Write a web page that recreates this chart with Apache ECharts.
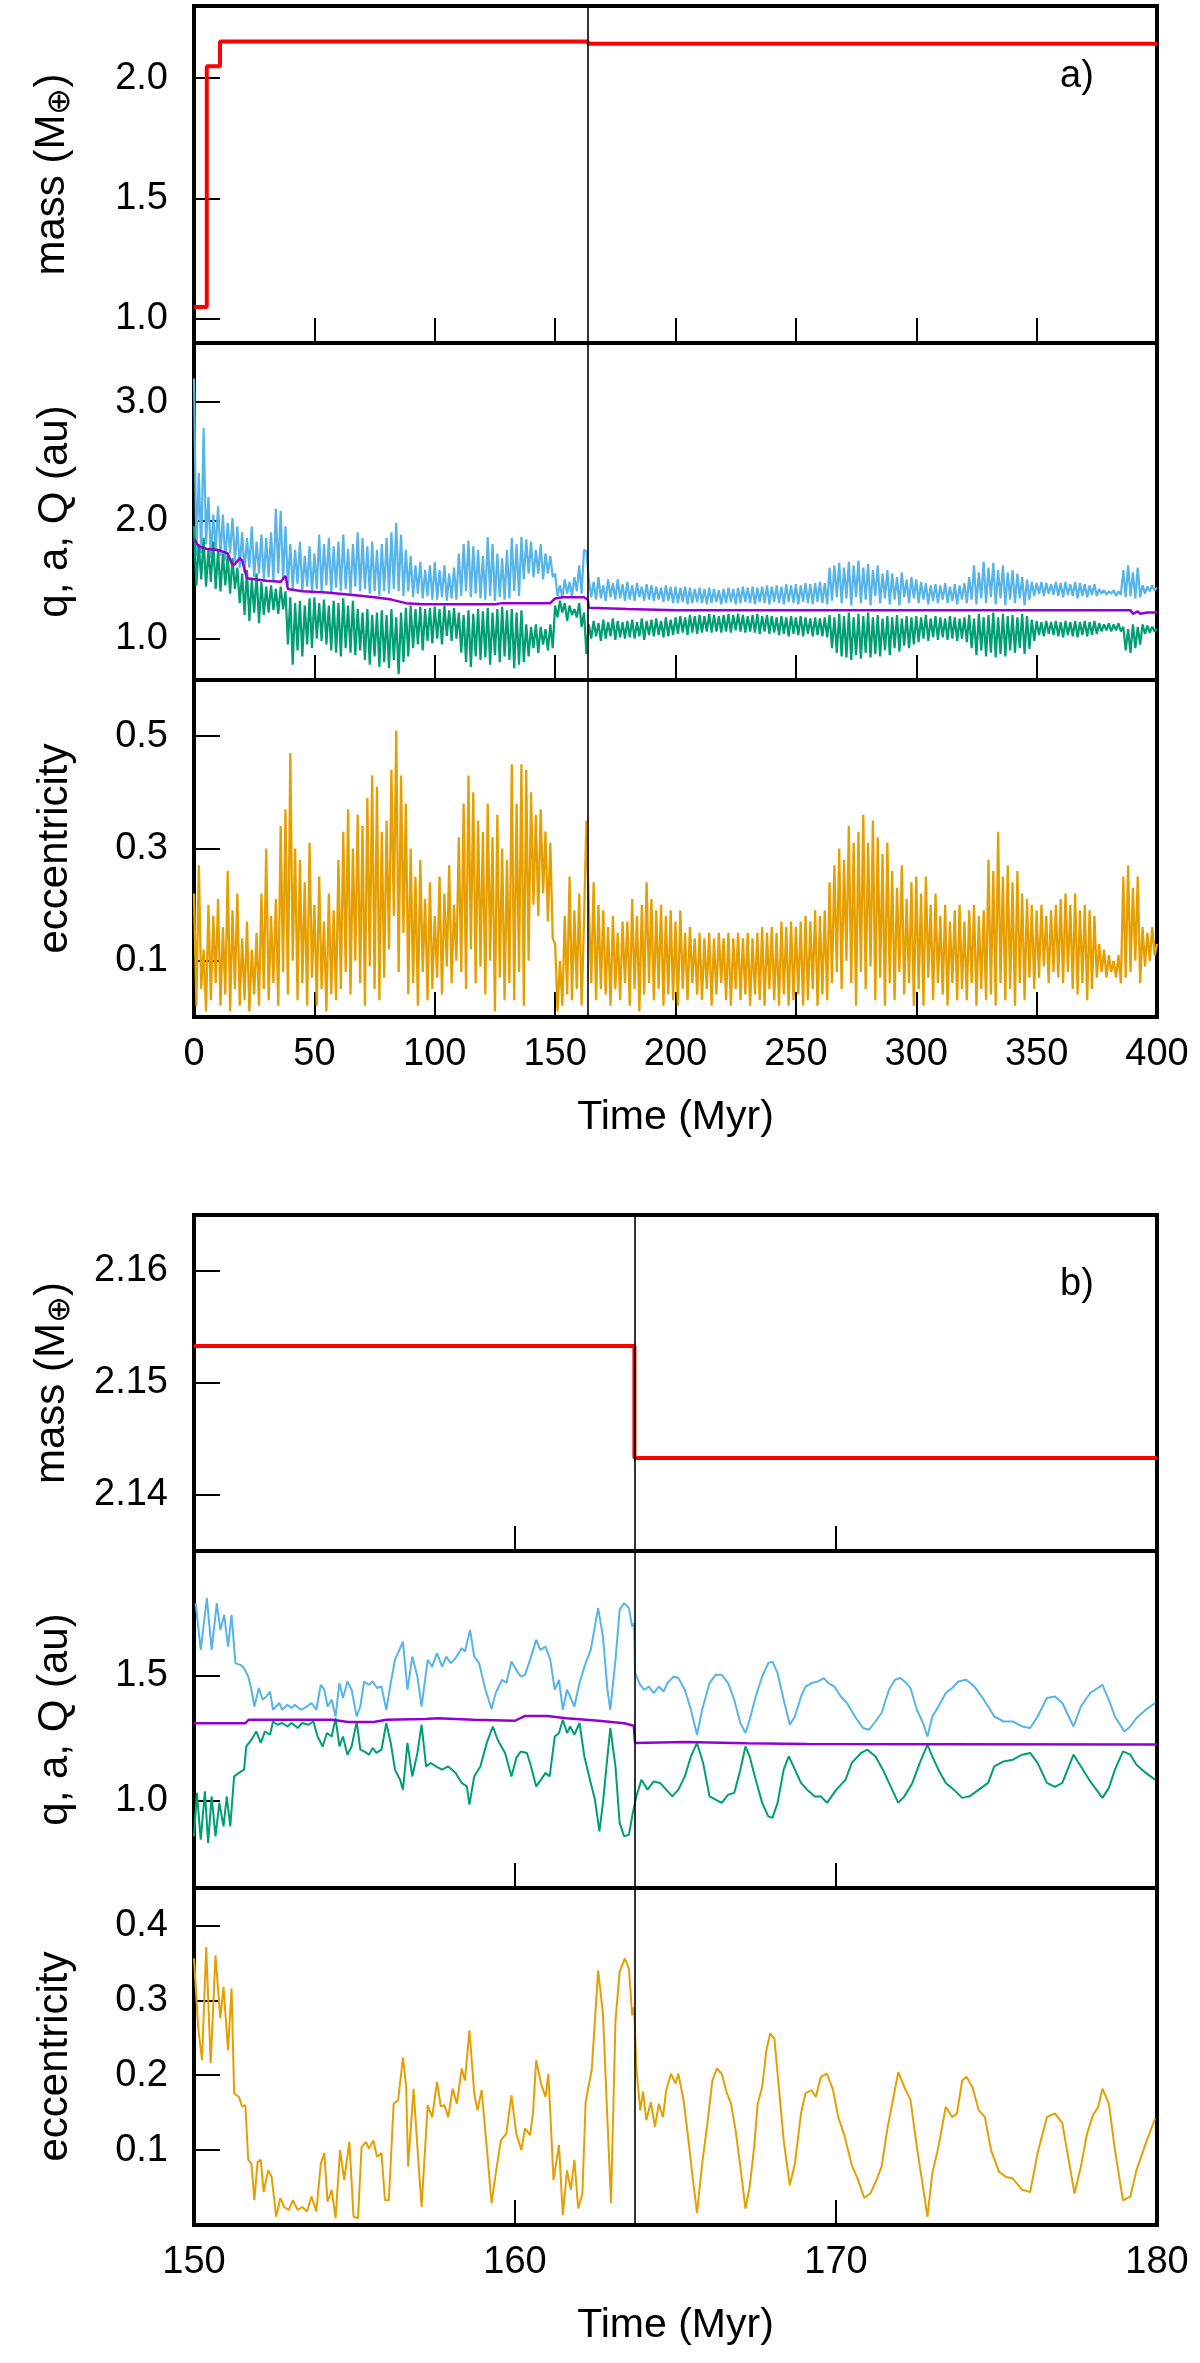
<!DOCTYPE html>
<html>
<head>
<meta charset="utf-8">
<script src="https://cdn.jsdelivr.net/npm/echarts/dist/echarts.min.js"></script>
<style>
html,body{margin:0;padding:0;background:#fff;}
#chart{width:1200px;height:2363px;}
</style>
</head>
<body>
<div id="chart"></div>
<script>
// ---------------- DATA ----------------
const eventTimeA = 163.7;
const eventTimeB = 163.72;

// Panel a) 0-400 Myr
const massTimeA = [0, 5.3, 5.3, 10.8, 10.8, 163.7, 163.7, 400];
const massA     = [1.05, 1.05, 2.05, 2.05, 2.153, 2.153, 2.143, 2.143];

const timeStartA = 0;   // Myr, first sample of the a) series below
const timeStepA  = 1;   // Myr between samples

const apoA = [
3.20,1.70,2.40,1.72,2.78,1.80,2.20,1.68,2.05,1.75,
2.12,1.70,2.05,1.66,1.98,1.72,2.02,1.65,1.95,1.60,
1.90,1.56,1.85,1.60,1.95,1.52,1.82,1.55,1.88,1.50,
1.85,1.52,1.90,1.48,2.10,1.55,2.08,1.50,1.95,1.45,
1.80,1.42,1.75,1.46,1.82,1.40,1.70,1.44,1.78,1.38,
1.72,1.42,1.88,1.40,1.80,1.45,1.85,1.38,1.78,1.43,
1.82,1.40,1.88,1.42,1.76,1.38,1.80,1.44,1.90,1.40,
1.85,1.42,1.78,1.38,1.82,1.40,1.75,1.36,1.80,1.40,
1.85,1.38,1.90,1.42,1.98,1.40,1.88,1.36,1.75,1.40,
1.70,1.35,1.62,1.38,1.65,1.34,1.58,1.36,1.62,1.33,
1.65,1.33,1.58,1.35,1.62,1.32,1.55,1.34,1.60,1.33,
1.72,1.36,1.80,1.40,1.83,1.35,1.78,1.38,1.75,1.34,
1.70,1.33,1.86,1.36,1.80,1.32,1.72,1.35,1.68,1.33,
1.75,1.34,1.85,1.40,1.80,1.36,1.86,1.50,1.84,1.55,
1.82,1.52,1.75,1.55,1.80,1.50,1.72,1.55,1.70,1.52,
1.55,1.36,1.45,1.35,1.50,1.38,1.48,1.36,1.52,1.40,
1.62,1.38,1.75,1.74,1.50,1.35,1.48,1.33,1.52,1.34,
1.45,1.32,1.50,1.35,1.47,1.33,1.50,1.34,1.46,1.32,
1.48,1.33,1.45,1.32,1.47,1.35,1.44,1.32,1.46,1.33,
1.45,1.32,1.44,1.33,1.43,1.31,1.45,1.32,1.44,1.30,
1.44,1.30,1.43,1.31,1.44,1.29,1.43,1.30,1.42,1.31,
1.43,1.30,1.42,1.29,1.43,1.30,1.42,1.31,1.41,1.29,
1.42,1.30,1.43,1.31,1.42,1.29,1.43,1.30,1.44,1.31,
1.43,1.30,1.44,1.29,1.43,1.31,1.44,1.30,1.45,1.29,
1.44,1.31,1.45,1.30,1.44,1.29,1.46,1.31,1.45,1.30,
1.46,1.29,1.45,1.31,1.47,1.30,1.46,1.29,1.47,1.31,
1.48,1.30,1.47,1.29,1.60,1.32,1.62,1.35,1.64,1.30,
1.60,1.34,1.65,1.28,1.62,1.35,1.66,1.30,1.60,1.33,
1.63,1.28,1.58,1.36,1.62,1.30,1.55,1.34,1.58,1.29,
1.55,1.33,1.52,1.28,1.56,1.35,1.50,1.30,1.52,1.34,
1.50,1.30,1.48,1.33,1.47,1.29,1.45,1.32,1.46,1.30,
1.45,1.33,1.47,1.30,1.44,1.32,1.46,1.29,1.45,1.33,
1.47,1.30,1.52,1.33,1.62,1.29,1.56,1.34,1.65,1.30,
1.60,1.35,1.64,1.29,1.58,1.34,1.62,1.28,1.56,1.33,
1.58,1.30,1.55,1.34,1.52,1.28,1.50,1.33,1.48,1.36,
1.47,1.38,1.48,1.36,1.47,1.38,1.46,1.37,1.48,1.36,
1.47,1.35,1.48,1.37,1.46,1.36,1.48,1.34,1.47,1.36,
1.46,1.35,1.45,1.37,1.46,1.36,1.42,1.38,1.41,1.37,
1.40,1.38,1.41,1.36,1.40,1.37,1.58,1.35,1.62,1.36,
1.56,1.34,1.60,1.35,1.45,1.38,1.44,1.40,1.45,1.41,
1.43];

const periA = [
1.95,1.45,1.80,1.50,1.85,1.44,1.75,1.48,1.82,1.42,
1.75,1.40,1.72,1.45,1.70,1.38,1.68,1.42,1.60,1.30,
1.55,1.20,1.58,1.15,1.50,1.22,1.55,1.13,1.48,1.20,
1.44,1.22,1.45,1.24,1.42,1.21,1.44,1.25,1.40,0.95,
1.35,0.78,1.30,0.90,1.32,0.85,1.28,0.95,1.34,0.92,
1.35,1.00,1.30,0.98,1.33,0.95,1.28,0.90,1.32,0.88,
1.30,0.85,1.34,0.92,1.28,0.88,1.32,0.86,1.25,0.90,
1.22,0.82,1.25,0.78,1.20,0.85,1.22,0.76,1.24,0.80,
1.20,0.75,1.25,0.82,1.18,0.70,1.22,0.80,1.26,0.85,
1.28,0.92,1.25,0.95,1.27,0.90,1.25,0.98,1.26,0.96,
1.27,1.00,1.25,0.95,1.28,1.02,1.24,0.98,1.26,1.00,
1.22,0.88,1.20,0.80,1.24,0.76,1.21,0.85,1.25,0.82,
1.23,0.84,1.26,0.78,1.22,0.86,1.25,0.80,1.27,0.85,
1.24,0.82,1.25,0.75,1.22,0.78,1.24,0.80,1.12,0.85,
1.10,0.92,1.12,0.88,1.10,0.95,1.08,0.90,1.12,0.92,
1.28,1.18,1.32,1.22,1.30,1.15,1.28,1.20,1.25,1.18,
1.30,1.10,1.22,0.87,1.12,1.00,1.15,1.02,1.13,0.98,
1.16,1.00,1.14,1.02,1.17,0.99,1.15,1.01,1.14,1.00,
1.15,1.01,1.16,1.00,1.14,1.02,1.17,0.99,1.15,1.03,
1.16,1.02,1.17,1.03,1.15,1.01,1.18,1.02,1.16,1.03,
1.18,1.04,1.19,1.05,1.18,1.03,1.20,1.05,1.19,1.04,
1.20,1.05,1.19,1.06,1.21,1.05,1.20,1.06,1.19,1.05,
1.20,1.06,1.21,1.05,1.20,1.07,1.21,1.06,1.20,1.05,
1.19,1.06,1.20,1.05,1.21,1.04,1.19,1.06,1.20,1.04,
1.19,1.05,1.18,1.03,1.19,1.04,1.18,1.02,1.19,1.04,
1.18,1.03,1.19,1.02,1.18,1.04,1.17,1.02,1.18,1.03,
1.17,1.02,1.18,1.01,1.20,0.92,1.18,0.88,1.21,0.85,
1.19,0.84,1.22,0.82,1.18,0.86,1.21,0.83,1.19,0.88,
1.22,0.84,1.18,0.87,1.20,0.85,1.17,0.90,1.19,0.86,
1.18,0.92,1.20,0.89,1.17,0.94,1.19,0.92,1.18,0.95,
1.19,0.97,1.18,1.00,1.20,0.98,1.17,1.01,1.19,0.99,
1.18,1.01,1.17,0.99,1.19,1.00,1.18,0.98,1.17,1.00,
1.18,0.97,1.20,0.92,1.17,0.86,1.21,0.90,1.18,0.85,
1.20,0.88,1.22,0.84,1.18,0.87,1.21,0.85,1.19,0.90,
1.20,0.88,1.18,0.92,1.21,0.87,1.19,0.91,1.16,0.98,
1.15,1.03,1.14,1.02,1.15,1.04,1.14,1.03,1.15,1.02,
1.14,1.01,1.15,1.03,1.14,1.02,1.15,1.01,1.14,1.03,
1.15,1.02,1.14,1.03,1.15,1.04,1.13,1.06,1.12,1.07,
1.13,1.06,1.12,1.07,1.13,1.06,1.10,0.90,1.08,0.88,
1.12,0.92,1.10,0.95,1.12,1.04,1.11,1.05,1.10,1.06,
1.08];

const semiA = [
[0,1.84],[2,1.78],[5,1.76],[10,1.75],[14,1.72],[16,1.62],[17,1.63],[19,1.68],[20,1.66],
[22,1.51],[30,1.49],[36,1.48],[38,1.53],[39,1.42],[45,1.40],[55,1.39],[65,1.37],[75,1.35],
[82,1.33],[88,1.30],[95,1.29],[125,1.29],[128,1.30],[148,1.30],[150,1.34],[153,1.35],
[162,1.35],[163.6,1.33],[164,1.26],[180,1.25],[200,1.24],[389,1.24],[390,1.21],[392,1.23],
[393,1.21],[396,1.22],[400,1.22]];

const eccA = [
0.22,0.02,0.27,0.05,0.12,0.01,0.20,0.03,0.18,0.06,
0.21,0.02,0.16,0.04,0.26,0.01,0.19,0.05,0.22,0.02,
0.14,0.03,0.17,0.01,0.12,0.04,0.15,0.02,0.22,0.05,
0.30,0.03,0.18,0.06,0.21,0.02,0.34,0.08,0.37,0.04,
0.47,0.10,0.30,0.03,0.28,0.06,0.24,0.02,0.31,0.07,
0.20,0.02,0.25,0.05,0.17,0.01,0.22,0.04,0.19,0.03,
0.28,0.05,0.33,0.08,0.37,0.04,0.30,0.10,0.36,0.06,
0.34,0.02,0.39,0.09,0.43,0.05,0.41,0.03,0.33,0.07,
0.35,0.12,0.44,0.18,0.51,0.08,0.43,0.15,0.38,0.04,
0.30,0.06,0.25,0.02,0.28,0.08,0.21,0.03,0.24,0.05,
0.18,0.07,0.25,0.04,0.22,0.09,0.27,0.06,0.20,0.10,
0.32,0.08,0.38,0.05,0.43,0.12,0.40,0.06,0.35,0.09,
0.33,0.04,0.38,0.10,0.32,0.01,0.36,0.07,0.30,0.03,
0.28,0.06,0.45,0.03,0.38,0.08,0.45,0.02,0.44,0.10,
0.40,0.20,0.36,0.18,0.37,0.22,0.33,0.17,0.31,0.14,
0.13,0.01,0.10,0.02,0.18,0.04,0.25,0.03,0.19,0.05,
0.22,0.02,0.17,0.35,0.20,0.06,0.24,0.03,0.20,0.05,
0.19,0.04,0.16,0.02,0.18,0.05,0.15,0.03,0.17,0.06,
0.17,0.02,0.21,0.05,0.18,0.01,0.20,0.04,0.24,0.06,
0.21,0.03,0.19,0.05,0.20,0.02,0.18,0.04,0.19,0.03,
0.17,0.02,0.19,0.05,0.15,0.03,0.16,0.06,0.14,0.04,
0.15,0.03,0.14,0.05,0.15,0.02,0.14,0.04,0.15,0.06,
0.14,0.03,0.15,0.02,0.14,0.05,0.15,0.03,0.14,0.04,
0.15,0.02,0.14,0.04,0.15,0.03,0.16,0.02,0.15,0.05,
0.16,0.03,0.15,0.02,0.17,0.04,0.16,0.02,0.17,0.03,
0.16,0.04,0.17,0.02,0.18,0.03,0.17,0.05,0.19,0.02,
0.18,0.04,0.19,0.03,0.24,0.06,0.27,0.08,0.30,0.05,
0.28,0.10,0.34,0.06,0.31,0.02,0.33,0.08,0.36,0.05,
0.31,0.09,0.35,0.03,0.32,0.07,0.29,0.02,0.31,0.06,
0.26,0.03,0.23,0.08,0.27,0.04,0.21,0.06,0.24,0.02,
0.25,0.05,0.22,0.02,0.25,0.07,0.20,0.03,0.22,0.06,
0.18,0.04,0.20,0.02,0.17,0.06,0.19,0.03,0.20,0.05,
0.17,0.03,0.19,0.06,0.20,0.02,0.18,0.05,0.19,0.03,
0.28,0.04,0.26,0.02,0.33,0.06,0.25,0.03,0.27,0.05,
0.24,0.02,0.26,0.06,0.22,0.03,0.21,0.07,0.20,0.05,
0.19,0.07,0.20,0.09,0.18,0.06,0.19,0.08,0.20,0.07,
0.21,0.06,0.22,0.08,0.20,0.05,0.22,0.04,0.19,0.06,
0.20,0.03,0.19,0.05,0.18,0.07,0.13,0.08,0.12,0.07,
0.11,0.08,0.10,0.07,0.11,0.06,0.25,0.07,0.27,0.08,
0.23,0.10,0.25,0.06,0.16,0.09,0.15,0.10,0.16,0.11,
0.13];

// Panel b) 150-180 Myr
const massTimeB = [150, 163.72, 163.72, 180];
const massB     = [2.1533, 2.1533, 2.1433, 2.1433];

const apoB = [
[150.05,1.791],[150.21,1.604],[150.40,1.811],[150.55,1.604],[150.71,1.791],[150.82,1.684],[150.94,1.744],
[151.06,1.617],[151.17,1.744],[151.29,1.551],[151.44,1.544],[151.56,1.531],[151.69,1.497],[151.79,1.444],
[151.88,1.377],[152.02,1.451],[152.14,1.404],[152.25,1.417],[152.37,1.437],[152.46,1.364],[152.56,1.377],
[152.66,1.391],[152.75,1.364],[152.91,1.384],[153.04,1.371],[153.14,1.384],[153.33,1.364],[153.52,1.377],
[153.66,1.391],[153.81,1.364],[153.95,1.464],[154.06,1.444],[154.16,1.377],[154.29,1.404],[154.41,1.337],
[154.53,1.471],[154.64,1.411],[154.78,1.477],[154.91,1.444],[155.07,1.337],[155.18,1.377],[155.30,1.477],
[155.45,1.464],[155.57,1.477],[155.70,1.451],[155.84,1.457],[155.99,1.364],[156.13,1.471],[156.26,1.564],
[156.51,1.637],[156.65,1.444],[156.80,1.577],[156.96,1.497],[157.09,1.377],[157.28,1.564],[157.42,1.537],
[157.57,1.591],[157.73,1.537],[157.86,1.577],[158.00,1.551],[158.15,1.571],[158.34,1.611],[158.44,1.597],
[158.60,1.684],[158.73,1.577],[158.88,1.551],[159.08,1.444],[159.27,1.367],[159.40,1.431],[159.60,1.484],
[159.73,1.471],[159.89,1.557],[160.04,1.524],[160.18,1.497],[160.31,1.504],[160.47,1.564],[160.66,1.644],
[160.79,1.604],[160.95,1.617],[161.10,1.564],[161.24,1.444],[161.37,1.484],[161.49,1.364],[161.62,1.444],
[161.72,1.417],[161.85,1.377],[162.01,1.471],[162.20,1.551],[162.36,1.604],[162.59,1.771],[162.74,1.657],
[162.88,1.444],[162.97,1.364],[163.13,1.564],[163.26,1.764],[163.40,1.791],[163.55,1.771],[163.65,1.697],
[163.71,1.711],[163.74,1.511],[163.90,1.464],[164.03,1.444],[164.17,1.457],[164.32,1.431],[164.48,1.457],
[164.63,1.437],[164.75,1.471],[164.94,1.497],[165.09,1.491],[165.29,1.444],[165.48,1.364],[165.67,1.264],
[165.83,1.364],[166.06,1.471],[166.25,1.504],[166.44,1.504],[166.64,1.471],[166.83,1.404],[167.02,1.311],
[167.18,1.271],[167.31,1.324],[167.50,1.417],[167.70,1.497],[167.89,1.551],[168.02,1.557],[168.18,1.511],
[168.37,1.404],[168.56,1.304],[168.72,1.337],[168.91,1.417],[169.05,1.457],[169.24,1.471],[169.43,1.477],
[169.62,1.491],[169.76,1.471],[169.95,1.457],[170.15,1.417],[170.34,1.391],[170.59,1.337],[170.84,1.291],
[171.03,1.284],[171.23,1.317],[171.42,1.351],[171.65,1.444],[171.84,1.484],[172.00,1.491],[172.19,1.471],
[172.32,1.451],[172.52,1.364],[172.71,1.311],[172.85,1.257],[173.00,1.337],[173.19,1.377],[173.42,1.431],
[173.62,1.451],[173.81,1.477],[174.06,1.484],[174.31,1.457],[174.54,1.417],[174.74,1.377],[174.93,1.337],
[175.22,1.317],[175.51,1.317],[175.80,1.297],[176.05,1.291],[176.28,1.337],[176.57,1.411],[176.82,1.417],
[177.05,1.391],[177.40,1.297],[177.63,1.377],[177.92,1.431],[178.30,1.464],[178.50,1.404],[178.69,1.337],
[178.98,1.277],[179.17,1.297],[179.36,1.331],[179.65,1.364],[179.94,1.391]];

const periB = [
[150.00,0.857],[150.09,1.031],[150.21,0.844],[150.34,1.037],[150.44,0.831],[150.55,1.017],[150.67,0.857],
[150.79,0.991],[150.92,0.897],[151.02,1.017],[151.13,0.897],[151.25,1.097],[151.40,1.111],[151.56,1.124],
[151.63,1.217],[151.79,1.244],[151.94,1.277],[152.08,1.231],[152.21,1.277],[152.37,1.264],[152.46,1.317],
[152.60,1.304],[152.75,1.311],[152.91,1.297],[153.04,1.311],[153.23,1.291],[153.37,1.311],[153.56,1.304],
[153.72,1.317],[153.85,1.257],[154.01,1.217],[154.14,1.271],[154.29,1.257],[154.41,1.331],[154.53,1.217],
[154.64,1.257],[154.78,1.184],[154.91,1.217],[155.07,1.317],[155.18,1.204],[155.30,1.197],[155.45,1.184],
[155.57,1.211],[155.68,1.191],[155.84,1.204],[155.99,1.311],[156.13,1.231],[156.26,1.124],[156.42,1.084],
[156.51,1.044],[156.65,1.231],[156.80,1.097],[156.96,1.191],[157.09,1.304],[157.23,1.137],[157.38,1.151],
[157.53,1.137],[157.73,1.124],[157.92,1.137],[158.15,1.111],[158.34,1.071],[158.50,1.057],[158.58,0.984],
[158.73,1.097],[158.92,1.137],[159.12,1.231],[159.31,1.297],[159.46,1.244],[159.69,1.191],[159.89,1.097],
[160.04,1.171],[160.18,1.197],[160.37,1.191],[160.50,1.137],[160.66,1.057],[160.81,1.084],[160.95,1.111],
[161.08,1.097],[161.24,1.257],[161.37,1.271],[161.49,1.324],[161.62,1.271],[161.72,1.297],[161.85,1.264],
[162.01,1.311],[162.16,1.177],[162.36,1.071],[162.49,1.004],[162.63,0.877],[162.74,0.991],[162.88,1.177],
[162.97,1.291],[163.13,1.137],[163.26,0.911],[163.40,0.857],[163.55,0.864],[163.67,0.951],[163.78,1.017],
[163.94,1.084],[164.13,1.044],[164.32,1.077],[164.52,1.071],[164.71,1.044],[164.90,1.017],[165.09,1.044],
[165.29,1.097],[165.48,1.177],[165.67,1.231],[165.86,1.151],[166.06,1.017],[166.25,1.004],[166.44,0.991],
[166.64,1.024],[166.83,1.031],[167.02,1.124],[167.18,1.217],[167.31,1.177],[167.50,1.084],[167.70,0.991],
[167.89,0.937],[168.02,0.931],[168.18,0.991],[168.37,1.124],[168.53,1.177],[168.72,1.124],[168.91,1.071],
[169.10,1.044],[169.34,1.017],[169.53,1.017],[169.72,0.991],[170.01,1.044],[170.30,1.084],[170.49,1.151],
[170.78,1.191],[170.98,1.204],[171.23,1.177],[171.46,1.124],[171.75,1.044],[171.94,0.991],[172.13,1.017],
[172.38,1.071],[172.61,1.151],[172.85,1.224],[173.00,1.177],[173.19,1.124],[173.42,1.071],[173.67,1.044],
[173.93,1.011],[174.16,1.017],[174.45,1.044],[174.74,1.071],[174.93,1.137],[175.22,1.157],[175.51,1.164],
[175.80,1.184],[176.05,1.191],[176.28,1.151],[176.57,1.071],[176.82,1.055],[177.05,1.071],[177.40,1.184],
[177.63,1.137],[177.92,1.077],[178.11,1.044],[178.30,1.011],[178.50,1.051],[178.69,1.124],[178.94,1.197],
[179.17,1.184],[179.36,1.144],[179.65,1.111],[179.94,1.084]];

const semiB = [
[150,1.31],[151.6,1.31],[151.7,1.324],[154.3,1.324],[154.8,1.315],[155.6,1.315],[156.0,1.324],
[157.2,1.327],[157.6,1.33],[158.7,1.324],[160.0,1.32],[160.3,1.339],[161.0,1.339],[161.6,1.33],
[162.6,1.32],[163.4,1.31],[163.7,1.30],[163.74,1.231],[165.3,1.235],[167.2,1.23],[168.4,1.228],
[169.1,1.227],[173,1.226],[180,1.225]];

const eccB = [
[150.00,0.356],[150.13,0.264],[150.25,0.220],[150.38,0.371],[150.52,0.216],[150.67,0.360],[150.82,0.276],
[150.92,0.318],[151.06,0.233],[151.17,0.316],[151.25,0.176],[151.40,0.171],[151.50,0.158],[151.60,0.160],
[151.69,0.087],[151.79,0.082],[151.88,0.033],[151.98,0.084],[152.08,0.087],[152.17,0.044],[152.31,0.073],
[152.42,0.064],[152.56,0.011],[152.69,0.036],[152.81,0.024],[152.95,0.020],[153.08,0.033],[153.23,0.020],
[153.37,0.024],[153.52,0.018],[153.66,0.038],[153.81,0.018],[153.95,0.082],[154.06,0.096],[154.16,0.031],
[154.29,0.047],[154.41,0.009],[154.55,0.100],[154.68,0.060],[154.84,0.111],[154.97,0.011],[155.11,0.009],
[155.22,0.104],[155.36,0.111],[155.45,0.102],[155.59,0.113],[155.70,0.091],[155.84,0.096],[155.95,0.033],
[156.07,0.033],[156.22,0.162],[156.36,0.167],[156.51,0.224],[156.61,0.184],[156.67,0.078],[156.84,0.182],
[156.96,0.104],[157.09,0.024],[157.28,0.160],[157.42,0.144],[157.57,0.191],[157.69,0.158],[157.80,0.160],
[157.92,0.144],[158.06,0.182],[158.19,0.162],[158.34,0.209],[158.44,0.193],[158.58,0.260],[158.73,0.176],
[158.83,0.153],[158.96,0.180],[159.12,0.104],[159.27,0.029],[159.40,0.069],[159.56,0.113],[159.73,0.122],
[159.89,0.173],[160.04,0.122],[160.20,0.100],[160.31,0.129],[160.47,0.120],[160.56,0.149],[160.66,0.220],
[160.81,0.189],[160.95,0.171],[161.04,0.202],[161.20,0.060],[161.37,0.107],[161.49,0.013],[161.62,0.073],
[161.74,0.047],[161.85,0.087],[161.97,0.022],[162.10,0.042],[162.20,0.164],[162.39,0.207],[162.59,0.340],
[162.74,0.282],[162.88,0.140],[162.99,0.029],[163.13,0.273],[163.26,0.338],[163.42,0.356],[163.55,0.342],
[163.65,0.280],[163.71,0.291],[163.78,0.211],[163.90,0.153],[163.99,0.178],[164.09,0.140],[164.23,0.164],
[164.36,0.131],[164.48,0.162],[164.61,0.144],[164.71,0.180],[164.86,0.202],[165.00,0.189],[165.09,0.202],
[165.25,0.167],[165.38,0.122],[165.52,0.069],[165.67,0.016],[165.83,0.082],[165.98,0.131],[166.15,0.193],
[166.29,0.209],[166.44,0.202],[166.60,0.176],[166.73,0.162],[166.87,0.127],[167.02,0.078],[167.18,0.022],
[167.31,0.051],[167.45,0.104],[167.56,0.162],[167.70,0.184],[167.83,0.233],[167.95,0.256],[168.08,0.249],
[168.22,0.184],[168.37,0.113],[168.56,0.053],[168.72,0.082],[168.91,0.149],[169.05,0.176],[169.24,0.180],
[169.37,0.171],[169.53,0.198],[169.72,0.202],[169.91,0.180],[170.07,0.144],[170.26,0.120],[170.49,0.080],
[170.69,0.060],[170.88,0.036],[171.07,0.042],[171.26,0.060],[171.42,0.078],[171.61,0.131],[171.80,0.173],
[171.94,0.204],[172.13,0.184],[172.32,0.167],[172.52,0.104],[172.71,0.051],[172.85,0.011],[173.00,0.069],
[173.19,0.104],[173.42,0.158],[173.62,0.144],[173.77,0.149],[173.93,0.193],[174.06,0.198],[174.25,0.184],
[174.45,0.153],[174.64,0.144],[174.83,0.100],[175.08,0.071],[175.31,0.064],[175.51,0.062],[175.80,0.047],
[176.05,0.044],[176.28,0.096],[176.57,0.144],[176.82,0.149],[177.05,0.136],[177.24,0.089],[177.43,0.042],
[177.63,0.078],[177.82,0.122],[178.01,0.147],[178.17,0.158],[178.30,0.182],[178.50,0.162],[178.69,0.100],
[178.94,0.033],[179.17,0.038],[179.36,0.073],[179.65,0.109],[179.94,0.142]];

// Axis ticks
const xTicksA = {min: 0, max: 400, interval: 50};
const xTicksB = {min: 150, max: 180, interval: 10};
const yTicksMassA = [1.0, 1.5, 2.0];
const yTicksOrbA  = [1.0, 2.0, 3.0];
const yTicksEccA  = [0.1, 0.3, 0.5];
const yTicksMassB = [2.14, 2.15, 2.16];
const yTicksOrbB  = [1.0, 1.5];
const yTicksEccB  = [0.1, 0.2, 0.3, 0.4];

// ---------------- CHART ----------------
const FONT = "'Liberation Sans', Arial, Helvetica, sans-serif";
const C = {mass:'#ff0000', apo:'#56b4e9', peri:'#009e73', semi:'#9400d3', ecc:'#e69f00'};

const seriesA = arr => arr.map((v, i) => [timeStartA + i * timeStepA, v]);
const zipXY = (xs, ys) => xs.map((x, i) => [x, ys[i]]);

const grids = [
  {top: 6,    height: 337},
  {top: 343,  height: 337},
  {top: 680,  height: 337},
  {top: 1215, height: 336},
  {top: 1551, height: 337},
  {top: 1888, height: 337}
].map(g => Object.assign({left: 194, right: 43, show: true, borderColor: '#000', borderWidth: 4, backgroundColor: 'transparent'}, g));

function xAx(gi, ticks, bottom) {
  return {
    type: 'value', gridIndex: gi, min: ticks.min, max: ticks.max, interval: ticks.interval,
    axisLine: {show: true, onZero: false, lineStyle: {color: '#000', width: 4}},
    axisTick: {show: true, inside: true, length: 25, lineStyle: {color: '#000', width: 2}},
    axisLabel: {show: bottom, color: '#000', fontSize: 38, fontFamily: FONT, margin: 19, showMinLabel: true, showMaxLabel: true},
    splitLine: {show: false},
    name: bottom ? 'Time (Myr)' : '',
    nameLocation: 'middle', nameGap: 80,
    nameTextStyle: {color: '#000', fontSize: 41, fontFamily: FONT}
  };
}
function yAx(gi, min, max, ticks, dec, name) {
  return {
    type: 'value', gridIndex: gi, min: min, max: max,
    axisLine: {show: true, onZero: false, lineStyle: {color: '#000', width: 4}},
    axisTick: {show: true, inside: true, length: 26, customValues: ticks, lineStyle: {color: '#000', width: 2}},
    axisLabel: {show: true, customValues: ticks, formatter: v => Number(v).toFixed(dec), color: '#000', fontSize: 38, fontFamily: FONT, margin: 26},
    splitLine: {show: false},
    name: name, nameLocation: 'middle', nameGap: 118,
    nameTextStyle: {color: '#000', fontSize: 42, fontFamily: FONT,
      rich: {sub: {fontSize: 32, fontFamily: FONT, color: '#000', verticalAlign: 'bottom', padding: [16, 0, 0, 0]}}}
  };
}

const vline = t => ({silent: true, symbol: 'none', animation: false, label: {show: false},
  lineStyle: {color: '#000', width: 1.6, type: 'solid'}, data: [{xAxis: t}]});

function line(xi, data, color, width, mark) {
  const s = {type: 'line', xAxisIndex: xi, yAxisIndex: xi, data: data, showSymbol: false, symbol: 'none',
    lineStyle: {color: color, width: width}, itemStyle: {color: color}, animation: false, clip: true, z: 2};
  if (mark !== undefined) s.markLine = vline(mark);
  return s;
}

const option = {
  animation: false,
  backgroundColor: '#fff',
  grid: grids,
  xAxis: [xAx(0, xTicksA, false), xAx(1, xTicksA, false), xAx(2, xTicksA, true),
          xAx(3, xTicksB, false), xAx(4, xTicksB, false), xAx(5, xTicksB, true)],
  yAxis: [
    yAx(0, 0.9, 2.3, yTicksMassA, 1, 'mass (M{sub|⊕})'),
    yAx(1, 0.65, 3.5, yTicksOrbA, 1, 'q, a, Q (au)'),
    yAx(2, 0, 0.6, yTicksEccA, 1, 'eccentricity'),
    yAx(3, 2.135, 2.165, yTicksMassB, 2, 'mass (M{sub|⊕})'),
    yAx(4, 0.65, 2.0, yTicksOrbB, 1, 'q, a, Q (au)'),
    yAx(5, 0, 0.45, yTicksEccB, 1, 'eccentricity')
  ],
  series: [
    line(0, zipXY(massTimeA, massA), C.mass, 4, eventTimeA),
    line(1, seriesA(apoA), C.apo, 2.2),
    line(1, seriesA(periA), C.peri, 2.2),
    line(1, semiA, C.semi, 2.5, eventTimeA),
    line(2, seriesA(eccA), C.ecc, 2.3, eventTimeA),
    line(3, zipXY(massTimeB, massB), C.mass, 4, eventTimeB),
    line(4, apoB, C.apo, 2),
    line(4, periB, C.peri, 2),
    line(4, semiB, C.semi, 2.5, eventTimeB),
    line(5, eccB, C.ecc, 2, eventTimeB)
  ],
  graphic: [
    {type: 'text', left: 1060, top: 58, style: {text: 'a)', fontSize: 38, fontFamily: FONT, fill: '#000'}},
    {type: 'text', left: 1060, top: 1266, style: {text: 'b)', fontSize: 38, fontFamily: FONT, fill: '#000'}}
  ]
};

const chart = echarts.init(document.getElementById('chart'), null, {renderer: 'canvas', width: 1200, height: 2363});
chart.setOption(option);
</script>
</body>
</html>
